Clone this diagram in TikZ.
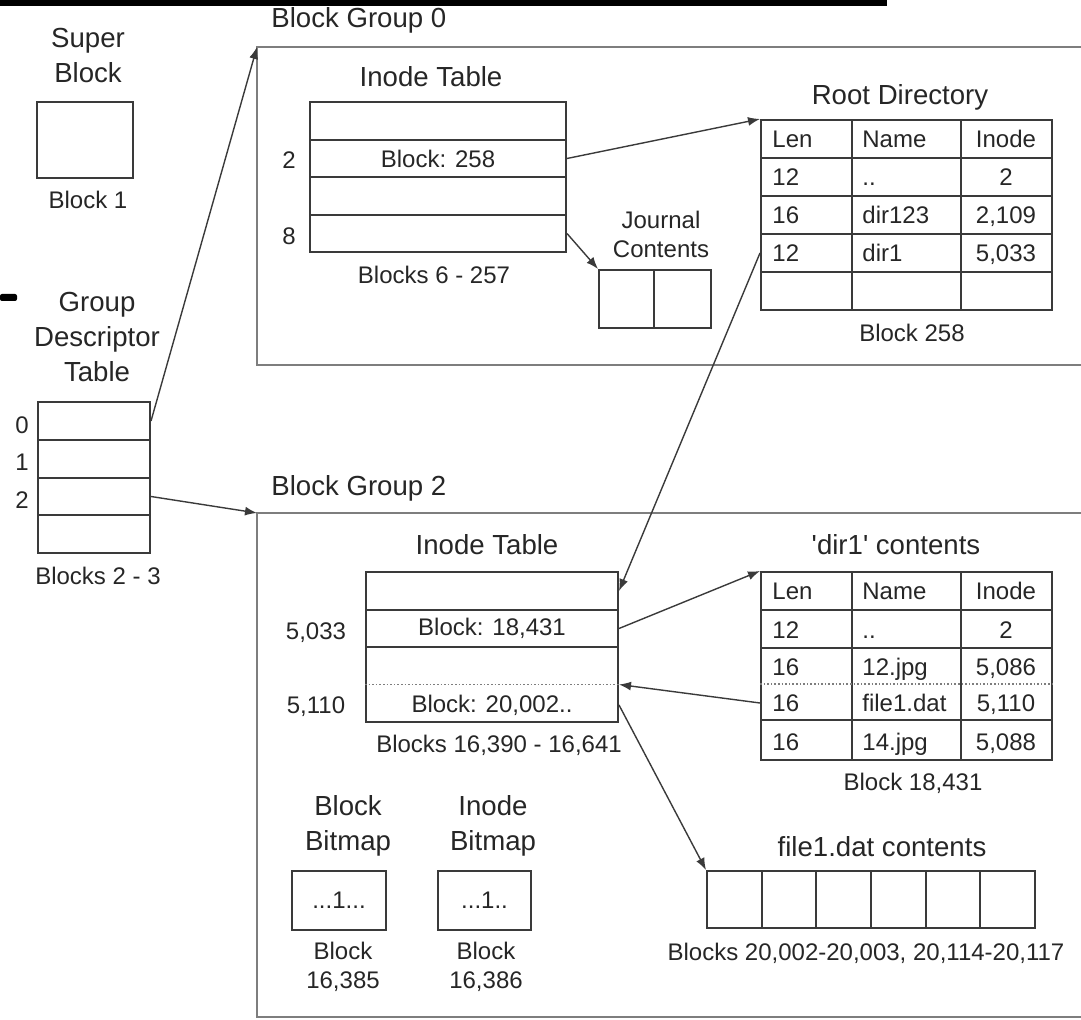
\documentclass[tikz,border=0pt]{standalone}
\usepackage{fontspec}
\setmainfont{Liberation Sans}
\usetikzlibrary{arrows.meta}
\definecolor{FSInk}{HTML}{262626}
\definecolor{FSLine}{HTML}{3A3A3A}
\definecolor{FSFrame}{HTML}{7E7E7E}
\begin{document}
\begin{tikzpicture}[x=0.5pt,y=-0.5pt,
  title/.style={font=\fontsize{13.8}{17.5}\selectfont,text=FSInk,inner sep=0pt,align=center},
  lbl/.style={font=\fontsize{12}{14.5}\selectfont,text=FSInk,inner sep=0pt,align=center},
  celltxt/.style={lbl,text height=8.6pt,text depth=0pt},
  cell/.style={draw=FSLine,line width=1pt,inner sep=0pt,font=\fontsize{12}{14.5}\selectfont,text=FSInk},
  link/.style={draw=FSLine,line width=0.7pt,-{Latex[length=6pt,width=4.5pt]}},
  grpframe/.style={draw=FSFrame,line width=1.1pt},
  sepline/.style={draw=FSFrame,densely dotted,line width=0.8pt}]
\path[use as bounding box] (0,0) rectangle (1081,1020);
\fill[black] (0,0) rectangle (887,6);
\fill[black,rounded corners=1pt] (0,294) rectangle (17,301);

\node[title] (sbname) at (88,56) {Super\\Block};
\node[cell,minimum width=48pt,minimum height=38pt] (sb) at (85,140) {};
\node[lbl] (sbblk) at (88,200) {Block 1};

\node[title] (gdtname) at (97,337) {Group\\Descriptor\\Table};
\foreach \i in {0,...,3}
  \node[cell,minimum width=56pt,minimum height=18.9pt] (gdt\i) at (94,421+37.75*\i) {};
\foreach \i in {0,1,2}
  \node[lbl] (gdtnum\i) at (22,425+37.5*\i) {\i};
\node[lbl] (gdtblk) at (98,576) {Blocks 2 - 3};

\node[title,anchor=west] (bg0name) at (271,20) {Block Group 0};
\coordinate (bg0) at (257,47);
\draw[grpframe] (1081,47) -- (bg0) -- (257,365) -- (1081,365);

\node[title] (itaname) at (431,77) {Inode Table};
\foreach \i/\t in {0/{},1/{Block: 258},2/{},3/{}}
  \node[cell,minimum width=128pt,minimum height=18.75pt] (ita\i) at (438,121+37.5*\i) {\t};
\node[lbl] (itanum2) at (289,160) {2};
\node[lbl] (itanum8) at (289,236) {8};
\node[lbl] (itablk) at (434,275) {Blocks 6 - 257};

\node[lbl] (jcname) at (661,234) {Journal\\Contents};
\node[cell,minimum width=27.5pt,minimum height=29pt] (jc0) at (626.5,299) {};
\node[cell,minimum width=28.5pt,minimum height=29pt] (jc1) at (682.5,299) {};

\node[title] (rdtitle) at (900,97) {Root Directory};
\foreach \i in {0,...,4}
  \node[cell,minimum width=145.5pt,minimum height=19pt] (rd\i) at (906.5,139+38*\i) {};
\draw[cell] (852,120) -- (852,310) (961,120) -- (961,310);
\foreach \r/\cl/\cn/\ci in {0/Len/Name/Inode,1/12/../2,2/16/dir123/{2,109},3/12/dir1/{5,033}} {
  \node[celltxt,anchor=west] (rdl\r) at (772,139+38*\r) {\cl};
  \node[celltxt,anchor=west] (rdn\r) at (862,139+38*\r) {\cn};
  \node[celltxt] (rdi\r) at (1006,139+38*\r) {\ci};
}
\node[lbl] (rdblk) at (912,333) {Block 258};

\node[title,anchor=west] (bg2name) at (271,488) {Block Group 2};
\coordinate (bg2) at (257,513);
\draw[grpframe] (1081,513) -- (bg2) -- (257,1017) -- (1081,1017);

\node[title] (itbname) at (487,545) {Inode Table};
\node[cell,minimum width=126pt,minimum height=19pt] (itb0) at (492,591) {};
\node[cell,minimum width=126pt,minimum height=18.5pt] (itb1) at (492,628.5) {Block: 18,431};
\node[cell,minimum width=126pt,minimum height=37.5pt] (itb2) at (492,684.5) {};
\draw[sepline] (itb2.west) -- (itb2.east);
\node[lbl] (itb2txt) at (492,705) {Block: 20,002..};
\node[lbl] (itbnum1) at (316,633) {5,033};
\node[lbl] (itbnum2) at (316,707) {5,110};
\node[lbl] (itbblk) at (499,745) {Blocks 16,390 - 16,641};

\node[title] (datitle) at (896,545) {\textquotesingle dir1\textquotesingle\ contents};
\node[cell,minimum width=145.5pt,minimum height=19pt] (da0) at (906.5,591) {};
\node[cell,minimum width=145.5pt,minimum height=19pt] (da1) at (906.5,629) {};
\node[cell,minimum width=145.5pt,minimum height=36pt] (da2) at (906.5,684) {};
\node[cell,minimum width=145.5pt,minimum height=20pt] (da3) at (906.5,740) {};
\draw[cell] (852,572) -- (852,760) (961,572) -- (961,760);
\draw[sepline] (da2.west) -- (da2.east);
\foreach \r/\y/\cl/\cn/\ci in {0/591/Len/Name/Inode,1/630/12/../2,2/667/16/12.jpg/{5,086},3/703/16/file1.dat/{5,110},4/742/16/14.jpg/{5,088}} {
  \node[celltxt,anchor=west] (dal\r) at (772,\y) {\cl};
  \node[celltxt,anchor=west] (dan\r) at (862,\y) {\cn};
  \node[celltxt] (dai\r) at (1006,\y) {\ci};
}
\node[lbl] (dablk) at (913,783) {Block 18,431};

\node[title] (fctitle) at (882,847) {file1.dat contents};
\foreach \i in {0,...,5}
  \node[cell,minimum width=27.33pt,minimum height=28.5pt] (fc\i) at (734.3+54.67*\i,899.5) {};
\node[lbl] (fcblk) at (866,953) {Blocks 20,002-20,003, 20,114-20,117};

\node[title] (bbname) at (348,826) {Block\\Bitmap};
\node[cell,minimum width=47pt,minimum height=29.5pt] (bb) at (339,900.5) {...1...};
\node[lbl] (bbblk) at (343,967) {Block\\16,385};
\node[title] (ibname) at (493,826) {Inode\\Bitmap};
\node[cell,minimum width=46.5pt,minimum height=29.5pt] (ib) at (484.5,900.5) {...1..};
\node[lbl] (ibblk) at (486,967) {Block\\16,386};

\draw[link] (gdt0.east) -- (bg0);
\draw[link] (gdt2.east) -- (bg2);
\draw[link] (ita1.east) -- (rd0.north west);
\draw[link] (ita3.east) -- (jc0.north west);
\draw[link] (rd3.west) -- (itb0.east);
\draw[link] (itb1.east) -- (da0.north west);
\draw[link] (da2.west |- dan3) -- (itb2.east);
\draw[link] (itb2.east |- itb2txt) -- (fc0.north west);
\end{tikzpicture}
\end{document}
